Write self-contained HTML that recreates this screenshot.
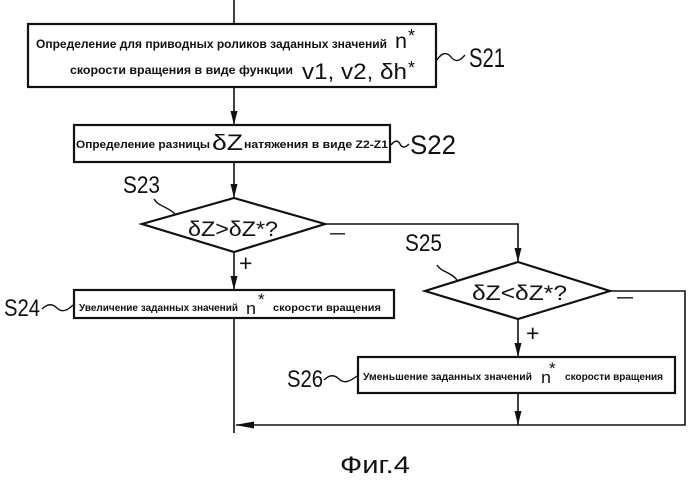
<!DOCTYPE html>
<html><head><meta charset="utf-8">
<style>
html,body{margin:0;padding:0;background:#fff;}
svg{display:block;}
.s{font-family:"Liberation Sans",sans-serif;font-weight:bold;fill:#111;}
.l{font-family:"Liberation Sans",sans-serif;fill:#111;}
</style></head>
<body>
<svg width="700" height="481" viewBox="0 0 700 481" xmlns="http://www.w3.org/2000/svg">
<g stroke="#111" fill="none">
  <line x1="234" y1="0" x2="234" y2="24" stroke-width="1.6"/>
  <rect x="28" y="24" width="408" height="63" stroke-width="2.2"/>
  <line x1="234" y1="87" x2="234" y2="125" stroke-width="1.6"/>
  <rect x="74" y="125" width="316" height="37" stroke-width="2.2"/>
  <line x1="234" y1="162" x2="234" y2="198" stroke-width="1.6"/>
  <polygon points="234,198 325,224 234,252 142,224" stroke-width="2.2"/>
  <line x1="234" y1="252" x2="234" y2="290" stroke-width="1.6"/>
  <rect x="74" y="290" width="320" height="28" stroke-width="2.2"/>
  <line x1="234" y1="318" x2="234" y2="433" stroke-width="1.6"/>
  <polyline points="325,224 518,224 518,262" stroke-width="1.6"/>
  <polygon points="518,262 610,291 518,319 425,291" stroke-width="2.2"/>
  <line x1="518" y1="319" x2="518" y2="357" stroke-width="1.6"/>
  <rect x="358" y="357" width="317" height="36" stroke-width="2.2"/>
  <line x1="518" y1="393" x2="518" y2="425" stroke-width="1.6"/>
  <polyline points="610,291 685,291 685,425 236,425" stroke-width="1.6"/>
  <path d="M437,60 C442,52 447,52 451,57 S459,62 465,55" stroke-width="1.4"/>
  <path d="M391,145 C395,140 398,140 400,144 S405,148 409,144" stroke-width="1.4"/>
  <path d="M42,309 C48,303 53,304 57,308 S66,312 73,305" stroke-width="1.4"/>
  <path d="M324,380 C330,374 335,375 339,379 S348,383 357,376" stroke-width="1.4"/>
  <path d="M154,199 C158,206 168,207 175,214" stroke-width="1.4"/>
  <path d="M437,265 C441,272 451,272 457,280" stroke-width="1.4"/>
</g>
<g fill="#111">
  <polygon points="230.5,111 237.5,111 234,125"/>
  <polygon points="230.5,184 237.5,184 234,198"/>
  <polygon points="230.5,276 237.5,276 234,290"/>
  <polygon points="514.5,248 521.5,248 518,262"/>
  <polygon points="514.5,343 521.5,343 518,357"/>
  <polygon points="514.5,411 521.5,411 518,425"/>
  <polygon points="235,425 254,421.5 254,428.5"/>
</g>
<text class="s" x="36" y="48" font-size="11.5" textLength="351" lengthAdjust="spacingAndGlyphs">Определение для приводных роликов заданных значений</text>
<text class="l" x="395" y="48" font-size="21" textLength="12" lengthAdjust="spacingAndGlyphs">n</text>
<text class="l" x="408" y="42" font-size="18">*</text>
<text class="s" x="70" y="74" font-size="11.5" textLength="223" lengthAdjust="spacingAndGlyphs">скорости вращения в виде функции</text>
<text class="l" x="302" y="79" font-size="22" textLength="105" lengthAdjust="spacingAndGlyphs">v1, v2, δh</text>
<text class="l" x="408" y="74" font-size="18">*</text>
<text class="s" x="76" y="148" font-size="11" textLength="134" lengthAdjust="spacingAndGlyphs">Определение разницы</text>
<text class="l" x="212" y="150" font-size="22" textLength="31" lengthAdjust="spacingAndGlyphs">δZ</text>
<text class="s" x="244" y="148" font-size="11" textLength="144" lengthAdjust="spacingAndGlyphs">натяжения в виде Z2-Z1</text>
<text class="l" x="188" y="236" font-size="21" textLength="90" lengthAdjust="spacingAndGlyphs">δZ&gt;δZ*?</text>
<text class="l" x="330" y="239" font-size="20" textLength="15" lengthAdjust="spacingAndGlyphs">–</text>
<text class="l" x="239" y="271" font-size="23">+</text>
<text class="s" x="79" y="311" font-size="10" textLength="159" lengthAdjust="spacingAndGlyphs">Увеличение заданных значений</text>
<text class="l" x="246" y="314" font-size="17" textLength="10" lengthAdjust="spacingAndGlyphs">n</text>
<text class="l" x="258" y="305" font-size="17">*</text>
<text class="s" x="273" y="311" font-size="10" textLength="108" lengthAdjust="spacingAndGlyphs">скорости вращения</text>
<text class="l" x="472" y="300" font-size="21" textLength="95" lengthAdjust="spacingAndGlyphs">δZ&lt;δZ*?</text>
<text class="l" x="617" y="303" font-size="20" textLength="16" lengthAdjust="spacingAndGlyphs">–</text>
<text class="l" x="526" y="341" font-size="23">+</text>
<text class="s" x="363" y="380" font-size="10" textLength="169" lengthAdjust="spacingAndGlyphs">Уменьшение заданных значений</text>
<text class="l" x="541" y="383" font-size="17" textLength="10" lengthAdjust="spacingAndGlyphs">n</text>
<text class="l" x="549" y="374" font-size="17">*</text>
<text class="s" x="565" y="380" font-size="10" textLength="98" lengthAdjust="spacingAndGlyphs">скорости вращения</text>
<text class="l" x="469" y="67" font-size="27" textLength="36" lengthAdjust="spacingAndGlyphs">S21</text>
<text class="l" x="410" y="154" font-size="27" textLength="46" lengthAdjust="spacingAndGlyphs">S22</text>
<text class="l" x="123" y="193" font-size="24" textLength="37" lengthAdjust="spacingAndGlyphs">S23</text>
<text class="l" x="4" y="316" font-size="24" textLength="36" lengthAdjust="spacingAndGlyphs">S24</text>
<text class="l" x="405" y="251" font-size="24" textLength="37" lengthAdjust="spacingAndGlyphs">S25</text>
<text class="l" x="287" y="387" font-size="24" textLength="36" lengthAdjust="spacingAndGlyphs">S26</text>
<text class="l" x="340" y="473" font-size="24" textLength="70" lengthAdjust="spacingAndGlyphs">Фиг.4</text>
</svg>
</body></html>
